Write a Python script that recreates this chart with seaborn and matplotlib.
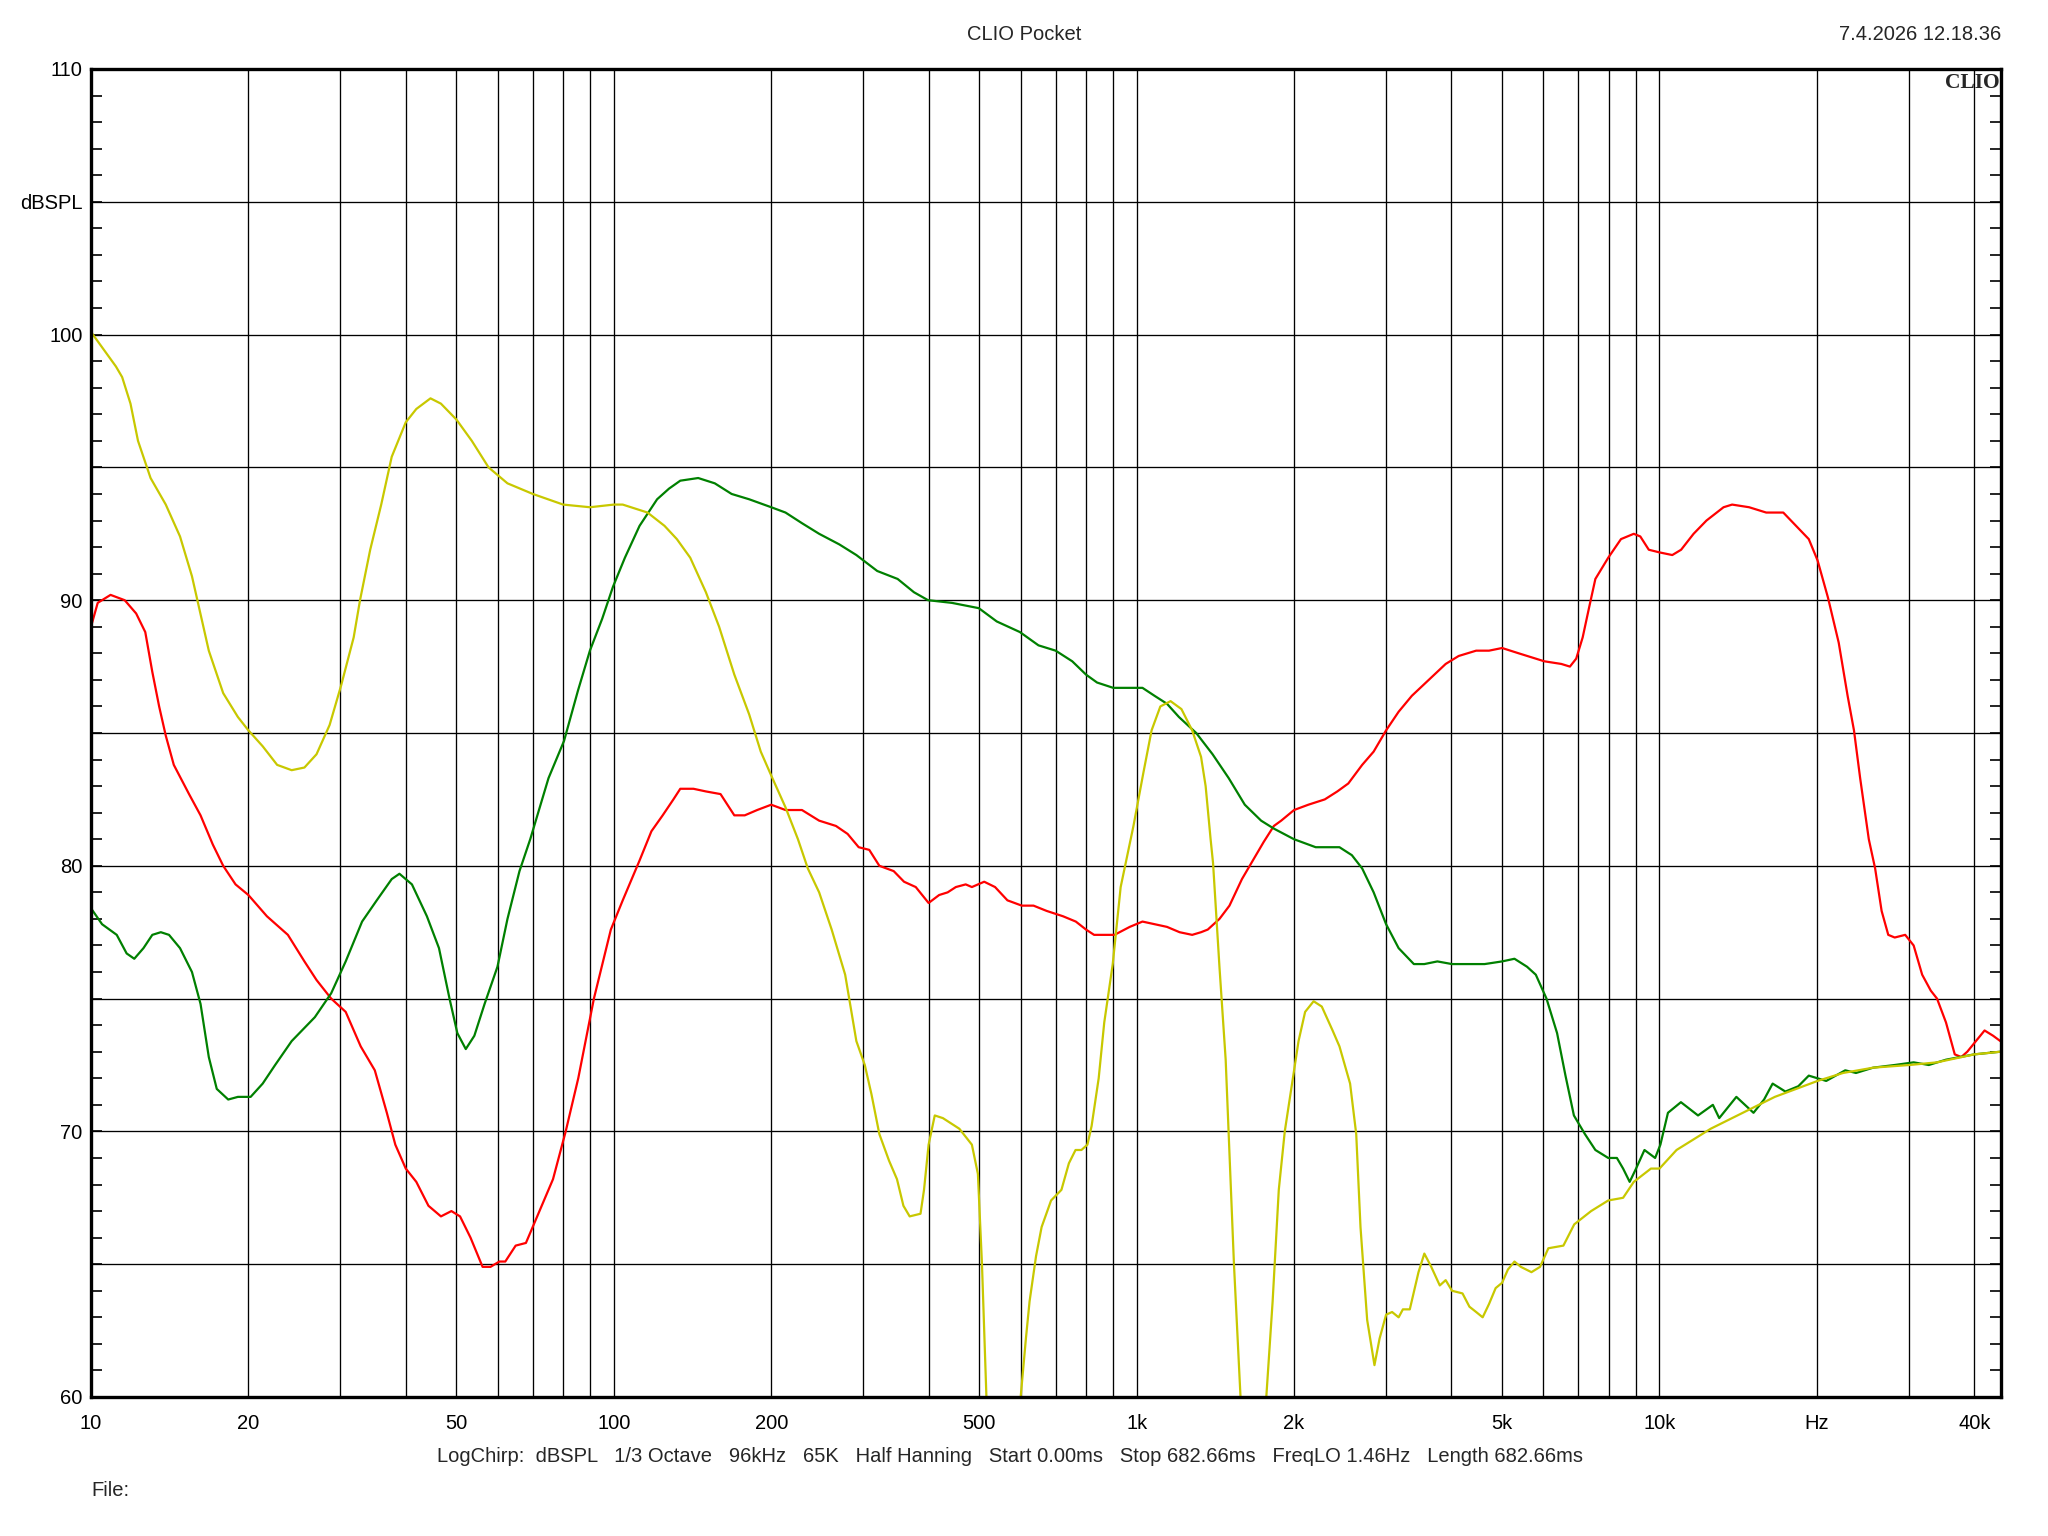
import numpy as np
import pandas as pd
import matplotlib
matplotlib.use("Agg")
import matplotlib.pyplot as plt
from matplotlib.ticker import FixedLocator, LogLocator, NullFormatter, MultipleLocator
import seaborn as sns

# ---------------- data ----------------
yellow_f = [10, 11.16, 11.47, 11.9, 12.3, 13.0, 13.9, 14.8, 15.6, 16.8, 17.9, 19.1, 20, 21.3, 22.7, 24.2,
            25.6, 27.0, 28.6, 30.1, 31.8, 32.7, 34.2, 35.9, 37.6, 40, 41.9, 44.6, 46.7, 50, 53.5, 57.6,
            62.6, 70, 80, 90, 100, 104, 116, 125, 132, 140, 150, 159, 170, 181.5, 191, 200, 213, 225,
            235, 247, 261, 277, 291, 302, 311, 322, 336, 348, 358, 368, 386, 392, 400, 411, 426, 458,
            484, 497, 506, 516, 555, 600, 614, 624, 642, 658, 686, 718, 742, 764, 784, 805, 820, 846,
            867, 900, 932, 986, 1030, 1068, 1110, 1161, 1218, 1277, 1328, 1355, 1385, 1400, 1440, 1480,
            1505, 1535, 1580, 1670, 1770, 1820, 1870, 1920, 1990, 2040, 2100, 2180, 2260, 2370, 2443,
            2560, 2630, 2680, 2760, 2850, 2915, 3000, 3080, 3170, 3230, 3330, 3460, 3550, 3660, 3800,
            3900, 4010, 4200, 4330, 4460, 4590, 4720, 4860, 5000, 5130, 5280, 5430, 5690, 5910, 6130,
            6550, 6870, 7400, 7980, 8520, 8930, 9630, 10000, 10780, 11620, 12530, 13770, 15130, 16620,
            18260, 20060, 22450, 25630, 30070, 33950, 40000, 44870]
yellow_db = [100.1, 98.8, 98.4, 97.4, 96.0, 94.6, 93.6, 92.4, 90.9, 88.1, 86.5, 85.6, 85.1, 84.5, 83.8, 83.6,
             83.7, 84.2, 85.3, 86.8, 88.6, 90.0, 91.9, 93.6, 95.4, 96.7, 97.2, 97.6, 97.4, 96.8, 96.0, 95.0,
             94.4, 94.0, 93.6, 93.5, 93.6, 93.6, 93.3, 92.8, 92.3, 91.6, 90.3, 89.0, 87.2, 85.7, 84.3, 83.4,
             82.2, 81.0, 79.9, 79.0, 77.6, 75.9, 73.4, 72.5, 71.4, 69.9, 68.9, 68.2, 67.2, 66.8, 66.9, 67.8,
             69.5, 70.6, 70.5, 70.1, 69.5, 68.4, 65.0, 60.0, 50.0, 60.0, 62.2, 63.6, 65.3, 66.4, 67.4, 67.8,
             68.8, 69.3, 69.3, 69.5, 70.2, 72.0, 74.1, 76.3, 79.2, 81.5, 83.5, 85.1, 86.0, 86.2, 85.9, 85.1,
             84.1, 83.0, 81.0, 80.1, 76.2, 72.7, 69.2, 65.0, 60.0, 50.0, 60.0, 63.6, 67.8, 70.0, 72.0, 73.4,
             74.5, 74.9, 74.7, 73.8, 73.2, 71.8, 69.9, 66.4, 62.9, 61.2, 62.2, 63.1, 63.2, 63.0, 63.3, 63.3,
             64.7, 65.4, 64.9, 64.2, 64.4, 64.0, 63.9, 63.4, 63.2, 63.0, 63.5, 64.1, 64.3, 64.8, 65.1, 64.9,
             64.7, 64.9, 65.6, 65.7, 66.5, 67.0, 67.4, 67.5, 68.1, 68.6, 68.6, 69.3, 69.7, 70.1, 70.5, 70.9,
             71.3, 71.6, 71.9, 72.2, 72.4, 72.5, 72.6, 72.9, 73.0]

green_f = [10, 10.5, 11.2, 11.7, 12.1, 12.6, 13.1, 13.6, 14.1, 14.8, 15.6, 16.2, 16.8, 17.4, 18.3, 19.1,
           20.2, 21.3, 22.5, 24.2, 26.8, 28.8, 30.7, 33.0, 35.2, 37.6, 38.9, 41.1, 43.9, 46.3, 48.5, 50.2,
           52.1, 54.1, 56.6, 59.9, 62.6, 66.0, 69.2, 75.0, 80.3, 85.4, 90.0, 95.0, 99.6, 105, 112, 121,
           127.5, 134, 145, 156, 168, 181.5, 200, 213, 229, 247, 270, 291, 319, 349, 375, 399, 443, 499,
           540, 598, 649, 700, 753, 800, 840, 902, 1026, 1082, 1143, 1205, 1300, 1397, 1500, 1610, 1730,
           1830, 2000, 2200, 2330, 2443, 2580, 2700, 2840, 3000, 3170, 3390, 3550, 3760, 4010, 4290,
           4630, 5000, 5280, 5580, 5800, 6080, 6370, 6610, 6860, 7200, 7540, 7980, 8290, 8520, 8770,
           9020, 9360, 9810, 10040, 10380, 10990, 11850, 12650, 13010, 14030, 15130, 15850, 16460,
           17410, 18430, 19300, 20840, 22660, 23760, 25630, 28180, 30630, 32740, 35320, 40000, 44870]
green_db = [78.4, 77.8, 77.4, 76.7, 76.5, 76.9, 77.4, 77.5, 77.4, 76.9, 76.0, 74.8, 72.8, 71.6, 71.2, 71.3,
            71.3, 71.8, 72.5, 73.4, 74.3, 75.2, 76.4, 77.9, 78.7, 79.5, 79.7, 79.3, 78.1, 76.9, 75.0, 73.7,
            73.1, 73.6, 74.8, 76.2, 78.0, 79.8, 81.0, 83.3, 84.7, 86.6, 88.1, 89.3, 90.5, 91.6, 92.8, 93.8,
            94.2, 94.5, 94.6, 94.4, 94.0, 93.8, 93.5, 93.3, 92.9, 92.5, 92.1, 91.7, 91.1, 90.8, 90.3, 90.0,
            89.9, 89.7, 89.2, 88.8, 88.3, 88.1, 87.7, 87.2, 86.9, 86.7, 86.7, 86.4, 86.1, 85.6, 85.0, 84.2,
            83.3, 82.3, 81.7, 81.4, 81.0, 80.7, 80.7, 80.7, 80.4, 79.9, 79.0, 77.8, 76.9, 76.3, 76.3, 76.4,
            76.3, 76.3, 76.3, 76.4, 76.5, 76.2, 75.9, 75.0, 73.7, 72.1, 70.6, 69.9, 69.3, 69.0, 69.0, 68.6,
            68.1, 68.6, 69.3, 69.0, 69.5, 70.7, 71.1, 70.6, 71.0, 70.5, 71.3, 70.7, 71.2, 71.8, 71.5, 71.7,
            72.1, 71.9, 72.3, 72.2, 72.4, 72.5, 72.6, 72.5, 72.7, 72.9, 73.0]

red_f = [10, 10.3, 10.9, 11.6, 12.2, 12.7, 13.1, 13.5, 13.9, 14.4, 15.4, 16.2, 17.1, 17.9, 18.9, 20, 21.7,
         23.8, 25.6, 27.0, 28.8, 30.7, 32.8, 34.9, 36.8, 38.2, 40.0, 41.9, 44.2, 46.7, 48.9, 50.8, 53.2,
         56.1, 58.1, 60.4, 62.0, 64.9, 67.9, 71.0, 76.5, 80.9, 85.5, 91.6, 98.7, 104, 112, 118, 124, 130,
         134, 142, 150, 160, 170, 178, 188, 200, 213, 229, 247, 266, 280, 294, 308, 322, 343, 359, 378,
         400, 419, 435, 451, 471, 484, 511, 536, 566, 603, 635, 673, 723, 765, 800, 829, 875, 907, 970,
         1026, 1082, 1143, 1208, 1277, 1328, 1368, 1440, 1505, 1590, 1680, 1750, 1830, 1890, 2000, 2130,
         2290, 2420, 2540, 2700, 2840, 3000, 3170, 3360, 3620, 3900, 4130, 4460, 4720, 5000, 5380, 5800,
         6020, 6490, 6740, 6930, 7130, 7330, 7540, 7980, 8440, 8930, 9190, 9540, 10000, 10580, 11000,
         11620, 12300, 13260, 13770, 14840, 16000, 17250, 18250, 19300, 20060, 21000, 22020, 22900,
         23550, 24200, 25140, 25850, 26600, 27390, 28180, 29510, 30630, 31800, 33030, 33950, 35320,
         36710, 37780, 38790, 40300, 41860, 43470, 44870]
red_db = [89.0, 89.9, 90.2, 90.0, 89.5, 88.8, 87.3, 86.0, 84.9, 83.8, 82.7, 81.9, 80.8, 80.0, 79.3, 78.9,
          78.1, 77.4, 76.4, 75.7, 75.0, 74.5, 73.2, 72.3, 70.7, 69.5, 68.6, 68.1, 67.2, 66.8, 67.0, 66.8,
          66.0, 64.9, 64.9, 65.1, 65.1, 65.7, 65.8, 66.7, 68.2, 70.0, 72.0, 75.0, 77.6, 78.7, 80.2, 81.3,
          81.9, 82.5, 82.9, 82.9, 82.8, 82.7, 81.9, 81.9, 82.1, 82.3, 82.1, 82.1, 81.7, 81.5, 81.2, 80.7,
          80.6, 80.0, 79.8, 79.4, 79.2, 78.6, 78.9, 79.0, 79.2, 79.3, 79.2, 79.4, 79.2, 78.7, 78.5, 78.5,
          78.3, 78.1, 77.9, 77.6, 77.4, 77.4, 77.4, 77.7, 77.9, 77.8, 77.7, 77.5, 77.4, 77.5, 77.6, 78.0,
          78.5, 79.5, 80.3, 80.9, 81.5, 81.7, 82.1, 82.3, 82.5, 82.8, 83.1, 83.8, 84.3, 85.1, 85.8, 86.4,
          87.0, 87.6, 87.9, 88.1, 88.1, 88.2, 88.0, 87.8, 87.7, 87.6, 87.5, 87.8, 88.6, 89.7, 90.8, 91.6,
          92.3, 92.5, 92.4, 91.9, 91.8, 91.7, 91.9, 92.5, 93.0, 93.5, 93.6, 93.5, 93.3, 93.3, 92.8, 92.3,
          91.5, 90.1, 88.4, 86.4, 85.1, 83.3, 81.0, 79.9, 78.3, 77.4, 77.3, 77.4, 77.0, 75.9, 75.3, 75.0,
          74.1, 72.9, 72.8, 73.0, 73.4, 73.8, 73.6, 73.4]

x_tick_vals = [10, 20, 50, 100, 200, 500, 1000, 2000, 5000, 10000, 20000, 40000]
x_tick_labels = ["10", "20", "50", "100", "200", "500", "1k", "2k", "5k", "10k", "Hz", "40k"]
y_tick_vals = [60, 65, 70, 75, 80, 85, 90, 95, 100, 105, 110]
y_tick_labels = ["60", "", "70", "", "80", "", "90", "", "100", "dBSPL", "110"]

title = "CLIO Pocket"
date_text = "7.4.2026 12.18.36"
info_text = "LogChirp:  dBSPL   1/3 Octave   96kHz   65K   Half Hanning   Start 0.00ms   Stop 682.66ms   FreqLO 1.46Hz   Length 682.66ms"
file_text = "File:"

# ---------------- build table ----------------
df = pd.concat([
    pd.DataFrame({"f": red_f, "db": red_db, "curve": "red"}),
    pd.DataFrame({"f": green_f, "db": green_db, "curve": "green"}),
    pd.DataFrame({"f": yellow_f, "db": yellow_db, "curve": "yellow"}),
], ignore_index=True)
palette = {"red": "#ff0000", "green": "#008000", "yellow": "#c8c800"}

sns.set_theme(style="white")
plt.rcParams["font.family"] = ["Liberation Sans", "DejaVu Sans"]

fig = plt.figure(figsize=(20.48, 15.36), dpi=100)
ax = fig.add_axes([91 / 2048, 1 - 1397 / 1536, (2001 - 91) / 2048, (1397 - 69) / 1536])

sns.lineplot(data=df, x="f", y="db", hue="curve", palette=palette, sort=False,
             estimator=None, linewidth=1.6, legend=False, ax=ax, zorder=3)

ax.set_xscale("log")
ax.set_xlim(10, 45000)
ax.set_ylim(60, 110)

ax.xaxis.set_major_locator(FixedLocator(x_tick_vals))
ax.set_xticklabels(x_tick_labels)
ax.xaxis.set_minor_locator(LogLocator(base=10, subs=list(range(1, 10)), numticks=20))
ax.xaxis.set_minor_formatter(NullFormatter())
ax.yaxis.set_major_locator(FixedLocator(y_tick_vals))
ax.set_yticklabels(y_tick_labels)
ax.yaxis.set_minor_locator(MultipleLocator(1))

ax.grid(True, which="both", axis="x", color="black", linewidth=0.95)
ax.grid(True, which="major", axis="y", color="black", linewidth=0.95)
ax.set_axisbelow(True)

ax.tick_params(axis="x", which="both", length=0, pad=12, labelsize=14.5, colors="black")
ax.tick_params(axis="y", which="both", direction="in", length=8, width=1.2, left=True, right=True,
               labelsize=14.5, pad=6, colors="black")
for s in ax.spines.values():
    s.set_color("black")
    s.set_linewidth(2.4)
    s.set_zorder(5)

ax.set_xlabel("")
ax.set_ylabel("")

fig.text(1024 / 2048, 1 - 34 / 1536, title, ha="center", va="center", fontsize=14.5)
fig.text(2001 / 2048, 1 - 34 / 1536, date_text, ha="right", va="center", fontsize=14.5)
ax.text(0.9992, 0.9972, "CLIO", transform=ax.transAxes, ha="right", va="top", fontsize=15.5,
        fontweight="bold", family=["Liberation Serif", "DejaVu Serif"], zorder=6)
fig.text(437 / 2048, 1 - 1456 / 1536, info_text, ha="left", va="center", fontsize=14.5)
fig.text(91 / 2048, 1 - 1490 / 1536, file_text, ha="left", va="center", fontsize=14.5)

fig.savefig("out.png", dpi=100, facecolor="white")
